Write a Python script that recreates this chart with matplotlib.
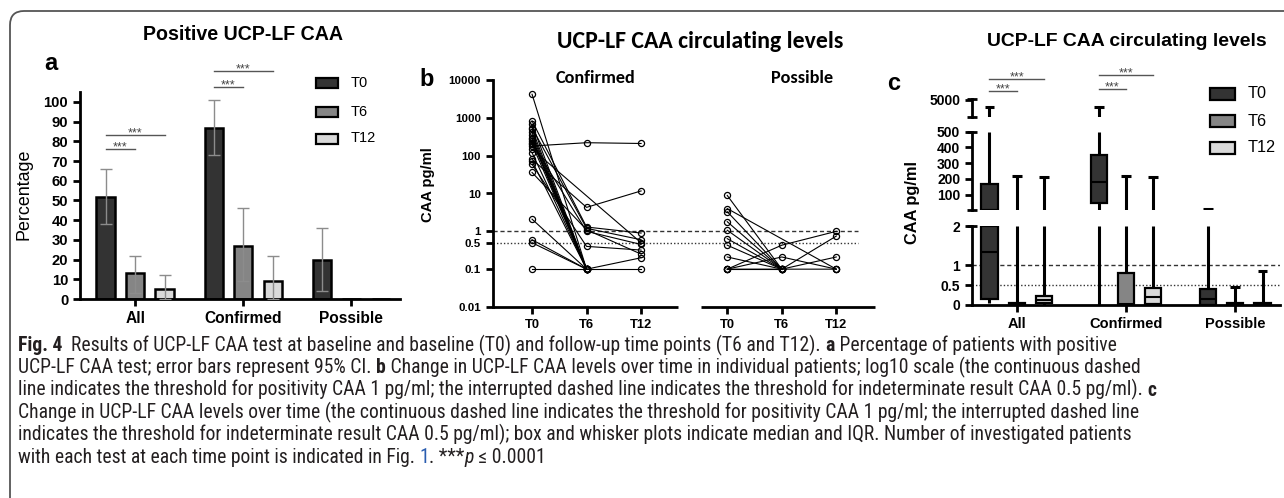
import numpy as np
import matplotlib
matplotlib.use("Agg")
import matplotlib.pyplot as plt
from matplotlib import transforms
from matplotlib.font_manager import FontProperties
from matplotlib.patches import FancyBboxPatch, Rectangle

W, H = 1284, 498
ARIAL = ["Liberation Sans", "DejaVu Sans"]
CALIBRI = ["Carlito", "Lato", "DejaVu Sans"]
CAPTION_FONT = ["Roboto Condensed", "Liberation Sans Narrow", "Lato", "DejaVu Sans"]
plt.rcParams["font.family"] = ARIAL

GROUPS = ["All", "Confirmed", "Possible"]
TIMES = ["T0", "T6", "T12"]
COLORS = ["#333333", "#858585", "#d9d9d9"]

# panel a: % positive with 95% CI
POS_T0 = [52, 87, 20]
POS_T0_LO = [38, 73, 4]
POS_T0_HI = [66, 101, 36]
POS_T6 = [13, 27, 0]
POS_T6_LO = [3, 9, 0]
POS_T6_HI = [22, 46, 0]
POS_T12 = [5, 9, 0]
POS_T12_LO = [0, 0, 0]
POS_T12_HI = [12, 22, 0]

# panel b: individual CAA levels (pg/ml), nan = not measured
NAN = np.nan
CONF_T0 = [4200, 830, 680, 550, 500, 410, 350, 300, 270, 250, 220, 200, 180,
           150, 120, 80, 72, 59, 36, 2.1, 0.6, 0.5, 0.1]
CONF_T6 = [0.1, 1.3, 0.1, 1.2, 0.1, 0.1, 0.1, 0.1, 0.1, 0.1, 1.0, 0.1, 220,
           NAN, 0.1, 4.3, 0.1, 0.4, 1.1, 0.1, 0.1, 0.1, 0.1]
CONF_T12 = [NAN, 0.9, NAN, 0.6, NAN, NAN, NAN, NAN, NAN, NAN, 0.45, NAN, 210,
            0.5, NAN, 11.7, NAN, 0.32, 0.25, 0.2, NAN, NAN, 0.1]
POSS_T0 = [8.9, 4.0, 3.3, 1.8, 1.07, 0.64, 0.43, 0.21, 0.1, 0.1, 0.1, 0.1]
POSS_T6 = [0.1, NAN, 0.1, 0.1, 0.1, 0.1, 0.1, 0.1, 0.43, 0.21, 0.1, 0.1]
POSS_T12 = [NAN, 0.1, NAN, 0.21, NAN, 0.1, NAN, NAN, 1.0, 0.1, 0.75, NAN]

# panel c: box stats, rows = T0/T6/T12, columns = All/Confirmed/Possible
BOX_MIN = [[0.05, 0, 0], [0, 0, 0], [0, 0, 0]]
BOX_Q1 = [[0.15, 48, 0], [0, 0, 0], [0.05, 0.03, 0]]
BOX_MED = [[1.35, 180, 0.15], [0.02, 0.02, 0.02], [0.13, 0.2, 0.02]]
BOX_Q3 = [[170, 350, 0.4], [0.05, 0.8, 0.05], [0.22, 0.42, 0.05]]
BOX_MAX = [[4200, 4200, 8.9], [220, 220, 0.45], [210, 210, 0.87]]

CAPTION = [
    [("Fig. 4", "bold"), ("  Results of UCP-LF CAA test at baseline and baseline (T0) and "
                          "follow-up time points (T6 and T12). ", ""), ("a", "bold"),
     (" Percentage of patients with positive", "")],
    [("UCP-LF CAA test; error bars represent 95% CI. ", ""), ("b", "bold"),
     (" Change in UCP-LF CAA levels over time in individual patients; log10 scale "
      "(the continuous dashed", "")],
    [("line indicates the threshold for positivity CAA 1 pg/ml; the interrupted dashed "
      "line indicates the threshold for indeterminate result CAA 0.5 pg/ml). ", ""),
     ("c", "bold")],
    [("Change in UCP-LF CAA levels over time (the continuous dashed line indicates the "
      "threshold for positivity CAA 1 pg/ml; the interrupted dashed line", "")],
    [("indicates the threshold for indeterminate result CAA 0.5 pg/ml); box and whisker "
      "plots indicate median and IQR. Number of investigated patients", "")],
    [("with each test at each time point is indicated in Fig. ", ""), ("1", "link"),
     (". ***", ""), ("p", "italic"), (" \u2264 0.0001", "")],
]

fig = plt.figure(figsize=(W / 100, H / 100), dpi=100)
renderer = fig.canvas.get_renderer()


def measure(s, fp):
    w1 = renderer.get_text_width_height_descent(s + "|", fp, ismath=False)[0]
    w2 = renderer.get_text_width_height_descent("|", fp, ismath=False)[0]
    return w1 - w2


def fit(s, width, family=ARIAL, weight="normal"):
    fp = FontProperties(family=family, weight=weight, size=10)
    return 10 * width / measure(s, fp)


def rect(l, t, r, b):
    return [l / W, 1 - b / H, (r - l) / W, (b - t) / H]


def ftext(x, y, s, **kw):
    kw.setdefault("ha", "center")
    kw.setdefault("va", "center")
    return fig.text(x / W, 1 - y / H, s, **kw)


def bold_ticks(ax, ysize, xsize=None):
    ax.tick_params(axis="y", labelsize=ysize)
    if xsize:
        ax.tick_params(axis="x", labelsize=xsize)
    for lab in ax.get_xticklabels() + ax.get_yticklabels():
        lab.set_fontweight("bold")


def legend_box(x, yc, w, h, color, label, size):
    fig.add_artist(Rectangle((x / W, 1 - (yc + h / 2) / H), w / W, h / H,
                             facecolor=color, edgecolor="black", linewidth=1.6,
                             transform=fig.transFigure))
    ftext(x + w + 13, yc, label, ha="left", fontsize=size)


def stars(ax, x0, x1, y, transform=None):
    transform = transform or ax.transData
    ax.plot([x0, x1], [y, y], color="#555555", lw=1, clip_on=False,
            transform=transform)
    ax.annotate("***", xy=((x0 + x1) / 2, y), xycoords=transform, xytext=(0, -1),
                textcoords="offset points", ha="center", va="baseline",
                fontsize=9, color="#444444", annotation_clip=False)


fig.add_artist(FancyBboxPatch((0.10, -0.6), 14, 4.87 + 0.6,
                              boxstyle="round,pad=0,rounding_size=0.14",
                              transform=fig.dpi_scale_trans, fill=False,
                              edgecolor="#555555", linewidth=1.3))

# ---------------- panel a ----------------
ax = fig.add_axes(rect(80, 92.1, 400, 299))
xg = np.arange(3)
offs = [-0.273, 0, 0.273]
series = [(POS_T0, POS_T0_LO, POS_T0_HI), (POS_T6, POS_T6_LO, POS_T6_HI),
          (POS_T12, POS_T12_LO, POS_T12_HI)]
for i, (vals, lo, hi) in enumerate(series):
    x = xg + offs[i]
    v, lo, hi = np.array(vals, float), np.array(lo, float), np.array(hi, float)
    ax.bar(x, v, width=0.17, color=COLORS[i], edgecolor="black", linewidth=1.8,
           zorder=2)
    keep = hi > 0
    ax.errorbar(x[keep], v[keep], yerr=[v[keep] - lo[keep], hi[keep] - v[keep]],
                fmt="none", ecolor="#8c8c8c", elinewidth=1, capsize=4, capthick=1,
                zorder=3)
ax.set_xlim(-0.51, 2.45)
ax.set_ylim(0, 105)
ax.set_yticks(range(0, 101, 10))
ax.set_xticks(xg, GROUPS)
ax.spines[["top", "right"]].set_visible(False)
ax.spines[["left", "bottom"]].set_linewidth(2)
ax.tick_params(width=2, length=5)
bold_ticks(ax, fit("100", 25, weight="bold"), fit("Confirmed", 78, weight="bold"))
ax.set_ylabel("Percentage", fontsize=fit("Percentage", 92))
ax.yaxis.set_label_coords((33 - 80) / 320, (299 - 194) / 207)
stars(ax, offs[0], offs[1], 76)
stars(ax, offs[0], offs[2], 83)
stars(ax, 1 + offs[0], 1 + offs[1], 107.6)
stars(ax, 1 + offs[0], 1 + offs[2], 115.7)
ftext(243, 35, "Positive UCP-LF CAA",
      fontsize=fit("Positive UCP-LF CAA", 200, weight="bold"), fontweight="bold")
ftext(51, 63, "a", fontsize=17, fontweight="bold")
for i, (t, yc) in enumerate(zip(TIMES, [83, 112, 138.5])):
    legend_box(316, yc, 22, 10, COLORS[i], t, fit("T12", 25))

# ---------------- panel b ----------------
axb = fig.add_axes(rect(493, 80, 875, 307))
axb.set_yscale("log")
xpos_conf = np.array([0, 1, 2])
xpos_poss = np.array([3.58, 4.58, 5.58])
xl = (-0.716, 6.29)
axb.hlines(1, xl[0], 5.98, colors="#333333", linestyles=(0, (3, 2)), lw=1)
axb.hlines(0.5, xl[0], 5.98, colors="#333333", linestyles=(0, (1, 1.5)), lw=1)
for xpos, cols in [(xpos_conf, (CONF_T0, CONF_T6, CONF_T12)),
                   (xpos_poss, (POSS_T0, POSS_T6, POSS_T12))]:
    data = np.array(cols, float).T
    for row in data:
        m = ~np.isnan(row)
        axb.plot(xpos[m], row[m], "-o", color="black", lw=0.8, ms=4.4,
                 mfc="none", mec="black", mew=0.9, clip_on=False)
axb.set_xlim(*xl)
axb.set_ylim(0.01, 10000)
axb.set_yticks([0.01, 0.1, 0.5, 1, 10, 100, 1000, 10000],
               ["0.01", "0.1", "0.5", "1", "10", "100", "1000", "10000"])
axb.yaxis.set_minor_locator(matplotlib.ticker.NullLocator())
axb.set_xticks(np.r_[xpos_conf, xpos_poss], TIMES * 2)
axb.spines[["top", "right", "bottom"]].set_visible(False)
axb.spines["left"].set_linewidth(2)
axb.tick_params(width=2, length=5)
bold_ticks(axb, fit("10000", 32, weight="bold"), fit("T0", 15, weight="bold"))
xt = axb.get_xaxis_transform()
axb.plot([xl[0], 2.68], [0, 0], color="black", lw=2, transform=xt, clip_on=False,
         solid_capstyle="butt")
axb.plot([3.10, xl[1]], [0, 0], color="black", lw=2, transform=xt, clip_on=False,
         solid_capstyle="butt")
axb.set_ylabel("CAA pg/ml", fontsize=fit("CAA pg/ml", 75, weight="bold"),
               fontweight="bold")
axb.yaxis.set_label_coords((435 - 493) / 382, (307 - 185) / 227)
ftext(700, 41, "UCP-LF CAA circulating levels", fontweight="bold", family=CALIBRI,
      fontsize=fit("UCP-LF CAA circulating levels", 285, CALIBRI, "bold"))
sub = fit("Confirmed", 80, CALIBRI, "bold")
ftext(595, 78, "Confirmed", fontsize=sub, fontweight="bold", family=CALIBRI)
ftext(802, 78, "Possible", fontsize=sub, fontweight="bold", family=CALIBRI)
ftext(427, 79, "b", fontsize=17, fontweight="bold")

# ---------------- panel c ----------------
ax_top = fig.add_axes(rect(972, 99, 1280, 117))
ax_mid = fig.add_axes(rect(972, 131.7, 1280, 210))
ax_bot = fig.add_axes(rect(972, 226, 1280, 305))
offs_c = [-0.25, 0, 0.25]
bw = 0.147
ax_bot.hlines(1, -0.41, 2.41, colors="#333333", linestyles=(0, (3, 2)), lw=1,
              zorder=1)
ax_bot.hlines(0.5, -0.41, 2.41, colors="#333333", linestyles=(0, (1, 1.5)), lw=1,
              zorder=1)
for axc, (ylo, yhi) in [(ax_top, (3000, 5100)), (ax_mid, (2, 500)),
                        (ax_bot, (0, 2))]:
    for ti in range(3):
        for g in range(3):
            x = g + offs_c[ti]
            mn, q1, md = BOX_MIN[ti][g], BOX_Q1[ti][g], BOX_MED[ti][g]
            q3, mx = BOX_Q3[ti][g], BOX_MAX[ti][g]
            # only draw the parts that reach into this segment of the broken axis
            if q1 > ylo and mn < yhi:
                axc.vlines(x, max(mn, ylo), min(q1, yhi), color="black", lw=2.2,
                           zorder=2)
            if mx > ylo and q3 < yhi:
                axc.vlines(x, max(q3, ylo), min(mx, yhi), color="black", lw=2.2,
                           zorder=2)
            if ylo <= mx <= yhi:
                axc.hlines(mx, x - 0.045, x + 0.045, color="black", lw=2.2,
                           zorder=2)
            if q3 > ylo and q1 < yhi:
                b0, b1 = max(q1, ylo), min(q3, yhi)
                axc.bar(x, b1 - b0, bottom=b0, width=bw, color=COLORS[ti],
                        edgecolor="black", linewidth=1.6, zorder=3)
            if ylo <= md <= yhi:
                axc.hlines(md, x - bw / 2, x + bw / 2, color="black", lw=1.5,
                           zorder=4)
    axc.set_xlim(-0.41, 2.41)
    axc.set_ylim(ylo, yhi)
    axc.spines[["top", "right", "bottom"]].set_visible(False)
    axc.spines["left"].set_linewidth(2)
    axc.tick_params(width=2, length=5)
    axc.set_xticks([])
    for yy in (0, 1):
        if axc is ax_bot and yy == 0:
            continue
        axc.plot([-0.017, 0.017], [yy, yy], color="black", lw=2,
                 transform=axc.transAxes, clip_on=False, solid_capstyle="butt")
ax_top.set_yticks([5000], ["5000"])
ax_mid.set_yticks([100, 200, 300, 400, 500])
ax_bot.set_yticks([0, 0.5, 1, 2], ["0", "0.5", "1", "2"])
ax_bot.spines["bottom"].set_visible(True)
ax_bot.spines["bottom"].set_linewidth(2)
ax_bot.set_xticks(xg, GROUPS)
ysize_c = fit("5000", 31, weight="bold")
for axc in (ax_top, ax_mid, ax_bot):
    bold_ticks(axc, ysize_c, fit("Confirmed", 73, weight="bold"))
ftext(912, 202, "CAA pg/ml", fontweight="bold", rotation=90,
      fontsize=fit("CAA pg/ml", 83, weight="bold"))
ftext(1127, 41, "UCP-LF CAA circulating levels", fontweight="bold",
      fontsize=fit("UCP-LF CAA circulating levels", 280, weight="bold"))
ftext(894, 84, "c", fontsize=17, fontweight="bold")
blend = transforms.blended_transform_factory(ax_top.transData, fig.transFigure)
stars(ax_top, offs_c[0], offs_c[1], 1 - 91 / H, blend)
stars(ax_top, offs_c[0], offs_c[2], 1 - 78.7 / H, blend)
stars(ax_top, 1 + offs_c[0], 1 + offs_c[1], 1 - 88.7 / H, blend)
stars(ax_top, 1 + offs_c[0], 1 + offs_c[2], 1 - 75 / H, blend)
for i, (t, yc) in enumerate(zip(TIMES, [94, 121, 147.5])):
    legend_box(1210, yc, 25, 12, COLORS[i], t, fit("T12", 28))

# ---------------- caption ----------------
STYLE = {"": {}, "bold": {"weight": "bold"}, "italic": {"style": "italic"},
         "link": {}}


def prop(size, style):
    return FontProperties(family=CAPTION_FONT, size=size, **STYLE[style])


w3 = sum(measure(s, prop(10, st)) for s, st in CAPTION[2])
size = 10 * (1153 - 18) / w3
for k, parts in enumerate(CAPTION):
    x = 18
    y = 351 + 22.4 * k
    for s, st in parts:
        fp = prop(size, st)
        color = "#2a5db0" if st == "link" else "#231f20"
        fig.text(x / W, 1 - y / H, s, fontproperties=fp, color=color,
                 ha="left", va="baseline")
        x += measure(s, fp)

fig.savefig("out.png", dpi=100, facecolor="white")
